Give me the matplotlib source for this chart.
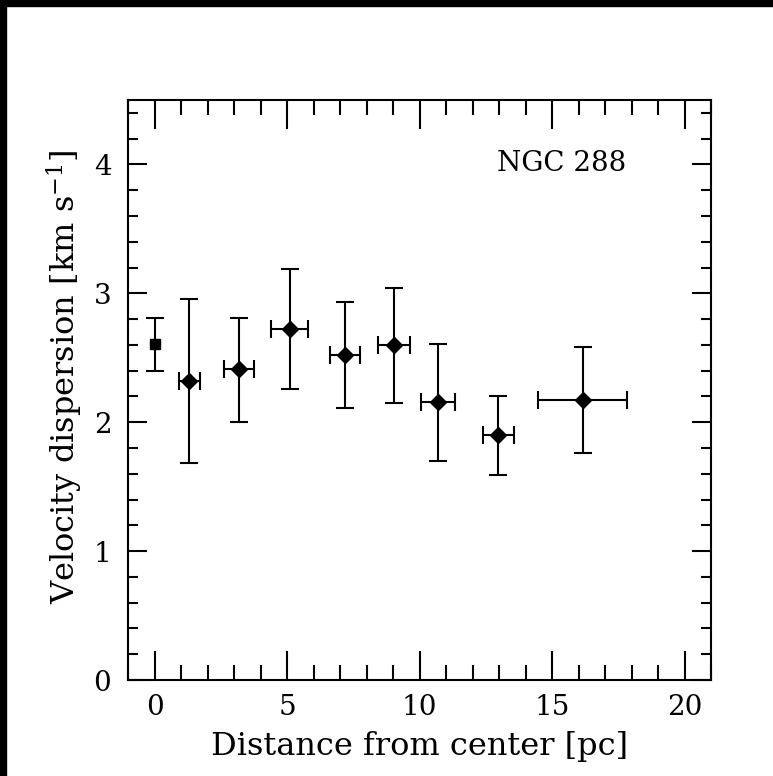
import matplotlib.pyplot as plt
from matplotlib.patches import Rectangle
from matplotlib.ticker import MultipleLocator

plt.rcParams['font.family'] = 'DejaVu Serif'
plt.rcParams['mathtext.fontset'] = 'dejavuserif'

# data
r_pc = [0.0, 1.32, 3.18, 5.10, 7.18, 9.04, 10.71, 12.98, 16.16]
r_err = [0.0, 0.40, 0.56, 0.71, 0.57, 0.61, 0.64, 0.57, 1.68]
sigma = [2.61, 2.32, 2.41, 2.72, 2.52, 2.60, 2.16, 1.90, 2.17]
sig_lo = [2.40, 1.68, 2.00, 2.26, 2.11, 2.15, 1.70, 1.59, 1.76]
sig_hi = [2.81, 2.96, 2.81, 3.19, 2.93, 3.04, 2.61, 2.20, 2.58]

err_dn = [s - lo for s, lo in zip(sigma, sig_lo)]
err_up = [hi - s for s, hi in zip(sigma, sig_hi)]

fig = plt.figure(figsize=(7.73, 7.76), dpi=100)
fig.patches.append(Rectangle((0, 0.992), 1, 0.008, transform=fig.transFigure,
                             color='black', zorder=10))
fig.patches.append(Rectangle((0, 0), 0.008, 1, transform=fig.transFigure,
                             color='black', zorder=10))

ax = fig.add_axes([0.1656, 0.1237, 0.7542, 0.7474])

# central point (square, no radial error)
ax.errorbar(r_pc[:1], sigma[:1], yerr=[err_dn[:1], err_up[:1]], fmt='s',
            color='black', ms=7, lw=1.5, capsize=6.5, capthick=1.5)
# binned points (diamonds)
ax.errorbar(r_pc[1:], sigma[1:], xerr=r_err[1:], yerr=[err_dn[1:], err_up[1:]],
            fmt='D', color='black', ms=8.5, lw=1.5, capsize=6.5, capthick=1.5)

ax.set_xlim(-1, 21)
ax.set_ylim(0, 4.5)
ax.xaxis.set_major_locator(MultipleLocator(5))
ax.xaxis.set_minor_locator(MultipleLocator(1))
ax.yaxis.set_major_locator(MultipleLocator(1))
ax.yaxis.set_minor_locator(MultipleLocator(0.2))

ax.tick_params(which='both', direction='in', top=True, right=True,
               width=1.5, labelsize=20, colors='black')
ax.tick_params(axis='x', which='major', length=21, pad=10)
ax.tick_params(axis='x', which='minor', length=10.5)
ax.tick_params(axis='y', which='major', length=14, pad=12)
ax.tick_params(axis='y', which='minor', length=7)
for sp in ax.spines.values():
    sp.set_linewidth(1.5)

ax.set_xlabel('Distance from center [pc]', fontsize=23)
ax.set_ylabel('Velocity dispersion [km s$^{-1}$]', fontsize=23)
ax.xaxis.set_label_coords(0.5, -0.088)
ax.yaxis.set_label_coords(-0.073, 0.522)
ax.text(0.855, 0.89, 'NGC 288', transform=ax.transAxes, fontsize=20,
        ha='right', va='center')

fig.savefig('out.png', dpi=100)
